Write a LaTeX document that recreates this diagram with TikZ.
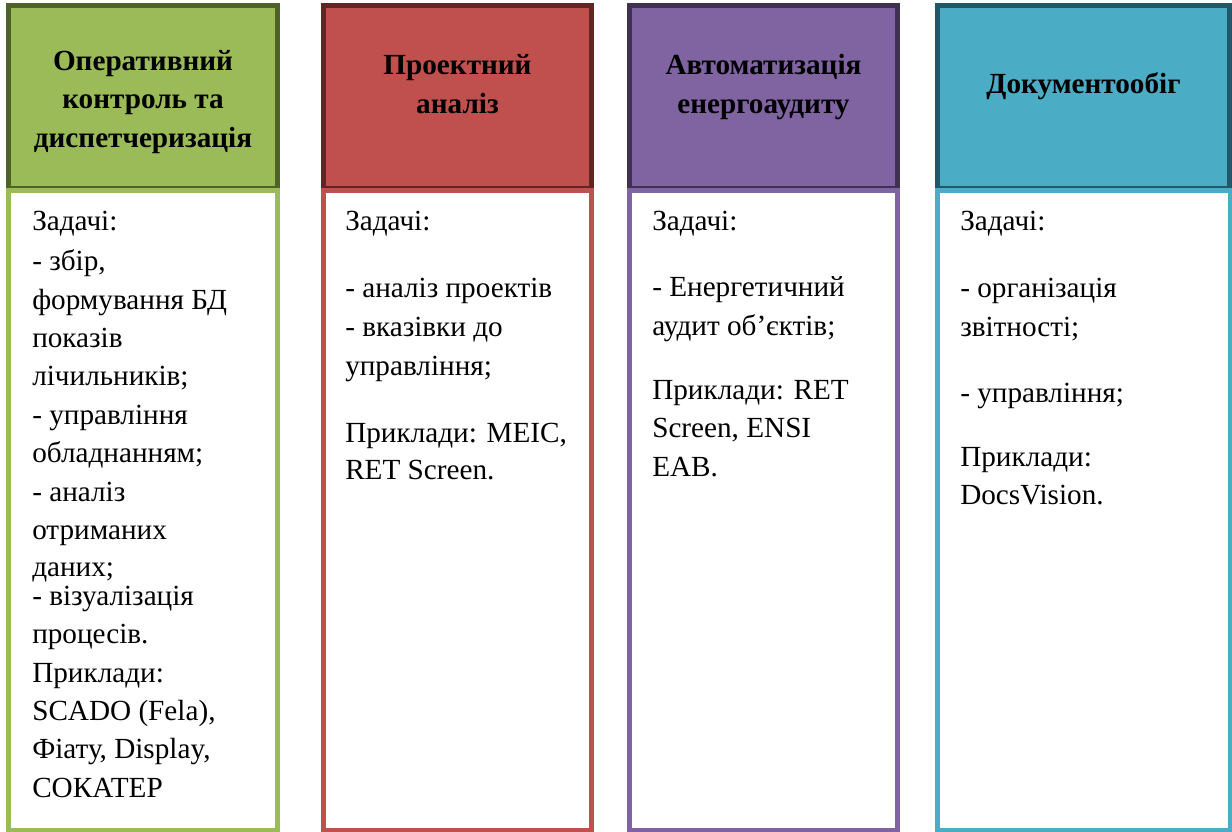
\documentclass[tikz,border=0pt]{standalone}
\usepackage{fontspec}
\setmainfont{Liberation Serif}
\definecolor{gfill}{HTML}{9BBB59}\definecolor{gdark}{HTML}{4F6228}
\definecolor{rfill}{HTML}{C0504D}\definecolor{rdark}{HTML}{632523}
\definecolor{pfill}{HTML}{8064A2}\definecolor{pdark}{HTML}{3F3151}
\definecolor{bfill}{HTML}{4BACC6}\definecolor{bdark}{HTML}{205867}
\newcommand\colfont{\fontsize{21.9}{28.9}\selectfont}
\tikzset{
  headbox/.style={line width=3.75pt},
  bodybox/.style={line width=3.6pt, fill=white},
  txt/.style={anchor=base west, inner sep=0pt, font=\colfont},
  ttl/.style={anchor=base, inner sep=0pt, font=\colfont\bfseries},
}
\begin{document}
\begin{tikzpicture}[x=0.75pt,y=-0.75pt]
\useasboundingbox[fill=white] (0,0) rectangle (1232,832);
% headers
\draw[headbox, draw=gdark, fill=gfill] (8.5,5.5) rectangle (277.5,188);
\draw[headbox, draw=rdark, fill=rfill] (323.5,5.5) rectangle (591.5,188);
\draw[headbox, draw=pdark, fill=pfill] (629.5,5.5) rectangle (897.5,188);
\draw[headbox, draw=bdark, fill=bfill] (937.5,5.5) rectangle (1229.5,188);
% bodies
\draw[bodybox, draw=gfill] (8.8,190.4) rectangle (277.6,830.2);
\draw[bodybox, draw=rfill] (323.3,190.4) rectangle (591.6,830.2);
\draw[bodybox, draw=pfill] (629.3,190.4) rectangle (897.6,830.2);
\draw[bodybox, draw=bfill] (937.3,190.4) rectangle (1229.9,830.2);
% titles
\node[ttl] (gt1) at (143,70) {Оперативний};
\node[ttl] (gt2) at (143,108.5) {контроль та};
\node[ttl] (gt3) at (143,147) {диспетчеризація};
\node[ttl] (rt1) at (457.5,74) {Проектний};
\node[ttl] (rt2) at (457.5,113) {аналіз};
\node[ttl] (pt1) at (763.5,74) {Автоматизація};
\node[ttl] (pt2) at (763.5,113) {енергоаудиту};
\node[ttl] (bt1) at (1083.5,93) {Документообіг};
% body texts
\foreach \y/\t [count=\i] in {230/Задачі:, 270/{- збір,}, 309/формування БД, 347/показів, 385/лічильників;, 424/- управління, 462/обладнанням;, 501/- аналіз, 539/отриманих, 576/даних;, 605/- візуалізація, 643/процесів., 682/Приклади:, 720/{SCADO (Fela),}, 758/{Фіату, Display,}, 797/СОКАТЕР}
  \node[txt] (g\i) at (32,\y) {\t};
\foreach \y/\t [count=\i] in {230/Задачі:, 297/- аналіз проектів, 336/- вказівки до, 375/управління;, 442/{Приклади: MEIC,}, 479/RET Screen.}
  \node[txt] (r\i) at (345,\y) {\t};
\foreach \y/\t [count=\i] in {230/Задачі:, 296/- Енергетичний, 335/аудит об’єктів;, 399/Приклади: RET, 437/{Screen, ENSI}, 476/EAB.}
  \node[txt] (p\i) at (652,\y) {\t};
\foreach \y/\t [count=\i] in {230/Задачі:, 297/- організація, 336/звітності;, 402/- управління;, 466/Приклади:, 504/DocsVision.}
  \node[txt] (b\i) at (960,\y) {\t};
\end{tikzpicture}
\end{document}
